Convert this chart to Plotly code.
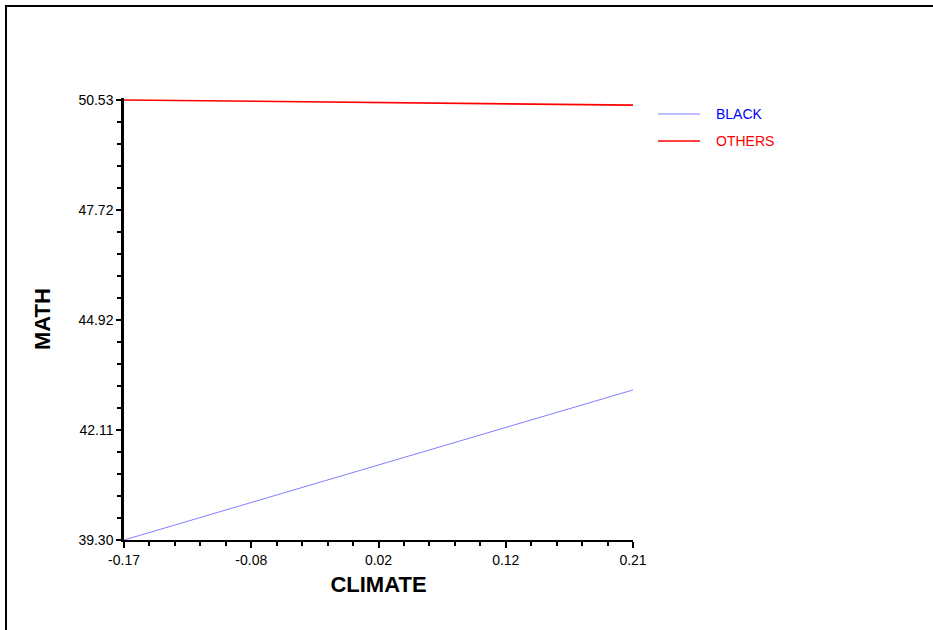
import plotly.graph_objects as go

# CLIMATE values at the two ends of each fitted line
climate = [-0.17, 0.21]
math_black = [39.30, 43.13]
math_others = [50.53, 50.40]

# Series names and their colours
series_names = ["BLACK", "OTHERS"]
line_colors = ["#8080ff", "#ff0000"]
text_colors = ["#0000ff", "#ff0000"]

# Axis tick positions and their printed labels
x_tickvals = [-0.17, -0.075, 0.02, 0.115, 0.21]
x_ticktext = ["-0.17", "-0.08", "0.02", "0.12", "0.21"]
y_tickvals = [39.30, 42.1075, 44.915, 47.7225, 50.53]
y_ticktext = ["39.30", "42.11", "44.92", "47.72", "50.53"]

W, H = 933, 630
ML, MR, MT, MB = 124, 300, 98, 90
Y_TOP = 50.581  # a little headroom so the top line is not clipped

fig = go.Figure()
for ys, name, col, w in zip([math_black, math_others], series_names, line_colors, [1, 1.6]):
    fig.add_trace(go.Scatter(
        x=climate, y=ys, mode="lines", name=name,
        line=dict(color=col, width=w), showlegend=False,
    ))

font_family = "Liberation Sans, Arial, sans-serif"

fig.update_layout(
    width=W, height=H,
    margin=dict(l=ML, r=MR, t=MT, b=MB, pad=0),
    paper_bgcolor="white", plot_bgcolor="white",
    font=dict(family=font_family, size=14, color="black"),
    xaxis=dict(
        range=[climate[0], climate[1]],
        tickmode="array", tickvals=x_tickvals, ticktext=x_ticktext,
        showgrid=False, zeroline=False,
        showline=True, linecolor="black", linewidth=2,
        ticks="outside", ticklen=6, tickwidth=1.5, tickcolor="black",
        minor=dict(tickmode="linear", tick0=-0.17, dtick=0.019,
                   ticks="outside", ticklen=4, tickwidth=1.5, tickcolor="black",
                   showgrid=False),
        tickfont=dict(size=14),
        title=dict(text="<b>CLIMATE</b>", font=dict(size=22), standoff=10),
    ),
    yaxis=dict(
        range=[39.30, Y_TOP],
        tickmode="array", tickvals=y_tickvals, ticktext=y_ticktext,
        showgrid=False, zeroline=False,
        showline=True, linecolor="black", linewidth=2.5,
        ticks="outside", ticklen=5, tickwidth=1.5, tickcolor="black",
        minor=dict(tickmode="linear", tick0=39.30, dtick=0.5615,
                   ticks="outside", ticklen=4, tickwidth=1.5, tickcolor="black",
                   showgrid=False),
        tickfont=dict(size=14),
        title=dict(text="<b>MATH</b>", font=dict(size=22), standoff=22),
    ),
)

pw = W - ML - MR
ph = H - MT - MB
def px_x(px):
    return (px - ML) / pw
def px_y(py):
    return (H - MB - py) / ph

# Legend: short line sample followed by the coloured series name
legend_rows = [114, 141]
for name, lcol, tcol, w, row in zip(series_names, line_colors, text_colors, [1, 1.6], legend_rows):
    fig.add_shape(type="line", xref="paper", yref="paper",
                  x0=px_x(658), x1=px_x(700), y0=px_y(row), y1=px_y(row),
                  line=dict(color=lcol, width=w))
    fig.add_annotation(xref="paper", yref="paper", x=px_x(714), y=px_y(row),
                       text=name, showarrow=False, xanchor="left", yanchor="middle",
                       font=dict(size=14, color=tcol))

# Outer frame: top and left edges of the page border, drawn as thin filled bands
fig.add_shape(type="rect", xref="paper", yref="paper",
              x0=px_x(5), x1=px_x(W), y0=px_y(7), y1=px_y(5),
              fillcolor="black", line=dict(width=0))
fig.add_shape(type="rect", xref="paper", yref="paper",
              x0=px_x(5), x1=px_x(7), y0=px_y(H), y1=px_y(5),
              fillcolor="black", line=dict(width=0))

fig.write_html("out.html")
